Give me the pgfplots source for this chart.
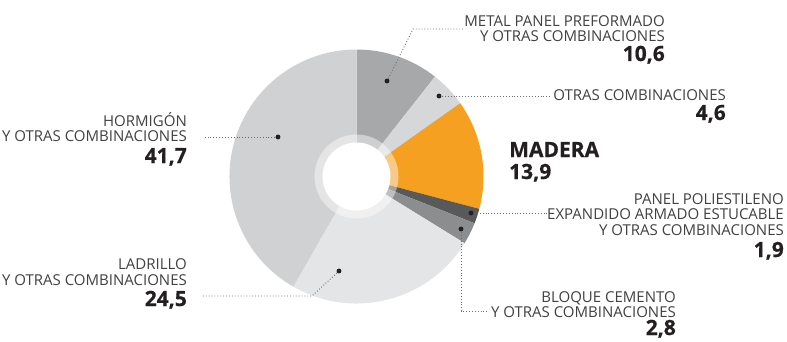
\documentclass[border=0pt]{standalone}
\usepackage{pgfplots}
\usepackage{pgfplotstable}
\pgfplotsset{compat=1.18}
\usepackage{fontspec}
\setmainfont{Open Sans}
\newfontfamily\heavy[FakeBold=0.6]{Open Sans Bold}
\definecolor{cMetal}{HTML}{A6A8AA}
\definecolor{cOtras}{HTML}{D6D7D8}
\definecolor{cMadera}{HTML}{F5A021}
\definecolor{cPanel}{HTML}{58595B}
\definecolor{cBloque}{HTML}{8B8D8F}
\definecolor{cLadrillo}{HTML}{E4E5E6}
\definecolor{cHormigon}{HTML}{D0D1D2}
\definecolor{txt}{HTML}{414042}
\definecolor{num}{HTML}{231F20}
\definecolor{lead}{HTML}{6D6E70}
\pgfplotstableread{
value color
10.6 cMetal
4.6 cOtras
13.9 cMadera
1.9 cPanel
2.8 cBloque
24.5 cLadrillo
41.7 cHormigon
}\piedata
\newcommand\lbl{\fontsize{15pt}{15pt}\selectfont\color{txt}}
\newcommand\nmb{\fontsize{21pt}{21pt}\selectfont\heavy\color{num}}
\begin{document}
\begin{tikzpicture}
\begin{axis}[
  width=787pt, height=341pt, scale only axis,
  xmin=0, xmax=787, ymin=0, ymax=341,
  hide axis, clip=false]
\def\angA{90}
\pgfplotsforeachungrouped \i in {0,...,6}{%
  \pgfplotstablegetelem{\i}{value}\of\piedata \let\val\pgfplotsretval
  \pgfplotstablegetelem{\i}{color}\of\piedata \let\col\pgfplotsretval
  \pgfmathsetmacro\angB{\angA-3.6*\val}%
  \edef\cmd{\noexpand\fill[\col] (axis cs:356.5,164.5) -- ++(\angA:127pt) arc[start angle=\angA, end angle=\angB, radius=127pt] -- cycle;}%
  \cmd
  \global\let\angA\angB
}
\fill[white, opacity=0.45] (axis cs:356.5,164.5) circle[radius=42pt];
\fill[white] (axis cs:356.5,164.5) circle[radius=34pt];
% leader lines
\addplot[lead, dotted, line width=0.9pt] coordinates {(387,260) (413,312) (463,312)};
\addplot[lead, dotted, line width=0.9pt] coordinates {(439,245) (552,245)};
\addplot[lead, dotted, line width=0.9pt] coordinates {(471,128) (553,128)};
\addplot[lead, dotted, line width=0.9pt] coordinates {(461,112) (461,30) (488,30)};
\addplot[lead, dotted, line width=0.9pt] coordinates {(278,204) (205,204)};
\addplot[lead, dotted, line width=0.9pt] coordinates {(339,70) (312,45) (203,45)};
\addplot[only marks, mark=*, mark size=2.2pt, num] coordinates {(387,260) (439,245) (471,128) (461,112) (278,204) (339,70)};
% labels
\node[anchor=base east, inner sep=0pt] at (axis cs:665,315) {\lbl METAL PANEL PREFORMADO};
\node[anchor=base east, inner sep=0pt] at (axis cs:665,300) {\lbl Y OTRAS COMBINACIONES};
\node[anchor=base east, inner sep=0pt] at (axis cs:665,280) {\nmb 10,6};
\node[anchor=base east, inner sep=0pt] at (axis cs:726,241) {\lbl OTRAS COMBINACIONES};
\node[anchor=base east, inner sep=0pt] at (axis cs:726,221) {\nmb 4,6};
\node[anchor=base west, inner sep=0pt] at (axis cs:509,184) {\nmb MADERA};
\node[anchor=base west, inner sep=0pt] at (axis cs:509,162) {\nmb 13,9};
\node[anchor=base east, inner sep=0pt] at (axis cs:784,137) {\lbl PANEL POLIESTILENO};
\node[anchor=base east, inner sep=0pt] at (axis cs:784,122) {\lbl EXPANDIDO ARMADO ESTUCABLE};
\node[anchor=base east, inner sep=0pt] at (axis cs:784,106) {\lbl Y OTRAS COMBINACIONES};
\node[anchor=base east, inner sep=0pt] at (axis cs:784,84) {\nmb 1,9};
\node[anchor=base east, inner sep=0pt] at (axis cs:676,39) {\lbl BLOQUE CEMENTO};
\node[anchor=base east, inner sep=0pt] at (axis cs:676,24) {\lbl Y OTRAS COMBINACIONES};
\node[anchor=base east, inner sep=0pt] at (axis cs:676,6) {\nmb 2,8};
\node[anchor=base east, inner sep=0pt] at (axis cs:187,215) {\lbl HORMIGÓN};
\node[anchor=base east, inner sep=0pt] at (axis cs:187,200) {\lbl Y OTRAS COMBINACIONES};
\node[anchor=base east, inner sep=0pt] at (axis cs:187,178) {\nmb 41,7};
\node[anchor=base east, inner sep=0pt] at (axis cs:187,72) {\lbl LADRILLO};
\node[anchor=base east, inner sep=0pt] at (axis cs:187,56) {\lbl Y OTRAS COMBINACIONES};
\node[anchor=base east, inner sep=0pt] at (axis cs:187,35) {\nmb 24,5};
\end{axis}
\pgfresetboundingbox
\path (current axis.south west) rectangle (current axis.north east);
\end{tikzpicture}
\end{document}
